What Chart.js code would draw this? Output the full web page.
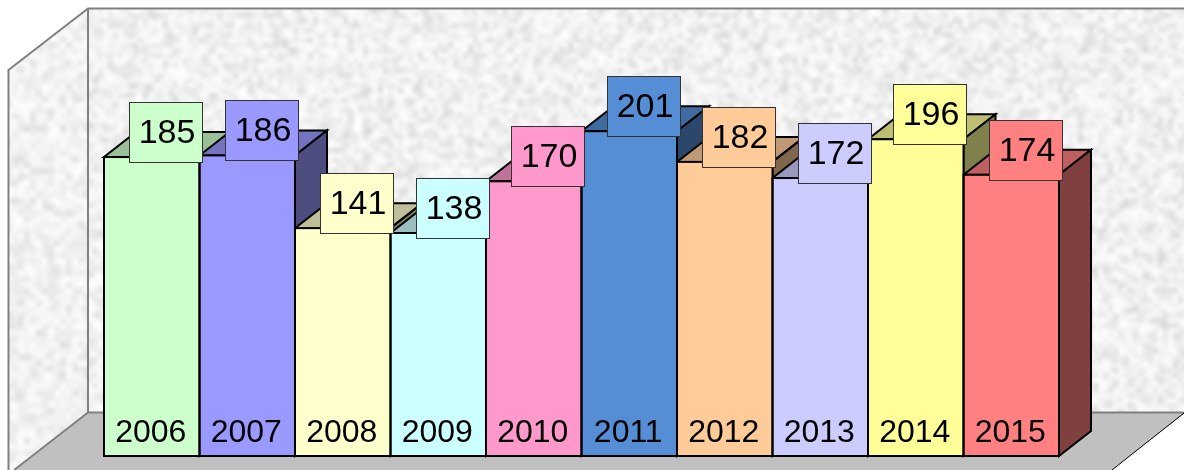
<!DOCTYPE html>
<html lang="en">
<head>
    <meta charset="utf-8">
    <title>Bars 2006-2015</title>
    <script src="https://cdn.jsdelivr.net/npm/chart.js"></script>
    <style>
        html, body { margin: 0; padding: 0; background: #fff; overflow: hidden; }
        canvas { display: block; }
    </style>
</head>
<body>
    <canvas id="barChart" width="1184" height="470"></canvas>
    <script>
        const categories = ['2006', '2007', '2008', '2009', '2010', '2011', '2012', '2013', '2014', '2015'];
        const seriesValues = [185, 186, 141, 138, 170, 201, 182, 172, 196, 174];
        const barColors = ['#CCFFCC', '#9999FF', '#FFFFCC', '#CCFFFF', '#FF99CC', '#558ED5', '#FFCC99', '#CCCCFF', '#FFFF99', '#FF8080'];

        const FONT = '"Liberation Sans", Arial, sans-serif';
        const DEPTH_X = 32;
        const DEPTH_Y = 25;
        const BORDER = 2;

        function shade(hex, k) {
            const n = parseInt(hex.slice(1), 16);
            return `rgb(${Math.round((n >> 16) * k)},${Math.round(((n >> 8) & 255) * k)},${Math.round((n & 255) * k)})`;
        }

        // stone texture for the walls, fixed seed so every render is the same
        function makeTexture(w, h, cell, lo, hi, blur) {
            let seed = 12345 + cell * 77;
            const next = () => {
                seed = (seed * 1664525 + 1013904223) % 4294967296;
                return seed / 4294967296;
            };
            const small = document.createElement('canvas');
            small.width = Math.ceil(w / cell);
            small.height = Math.ceil(h / cell);
            const sctx = small.getContext('2d');
            const img = sctx.createImageData(small.width, small.height);
            for (let i = 0; i < img.data.length; i += 4) {
                const v = lo + (hi - lo) * Math.sqrt(next());
                img.data[i] = img.data[i + 1] = img.data[i + 2] = v;
                img.data[i + 3] = 255;
            }
            sctx.putImageData(img, 0, 0);
            const big = document.createElement('canvas');
            big.width = w;
            big.height = h;
            const bctx = big.getContext('2d');
            bctx.imageSmoothingEnabled = true;
            bctx.imageSmoothingQuality = 'high';
            bctx.fillStyle = '#eee';
            bctx.fillRect(0, 0, w, h);
            bctx.filter = `blur(${blur}px)`;
            bctx.drawImage(small, 0, 0, small.width * cell, small.height * cell);
            return big;
        }

        function poly(ctx, pts, fill, stroke, lw) {
            ctx.beginPath();
            pts.forEach((p, i) => (i ? ctx.lineTo(p[0], p[1]) : ctx.moveTo(p[0], p[1])));
            ctx.closePath();
            if (fill) {
                ctx.fillStyle = fill;
                ctx.fill();
            }
            if (stroke) {
                ctx.strokeStyle = stroke;
                ctx.lineWidth = lw;
                ctx.lineJoin = 'miter';
                ctx.stroke();
            }
        }

        const backWallTex = makeTexture(1100, 410, 5, 212, 254, 1.5);
        const sideWallTex = makeTexture(84, 470, 6, 220, 252, 0.5);

        const wallsPlugin = {
            id: 'walls',
            beforeDraw(chart) {
                const ctx = chart.ctx;
                ctx.save();
                ctx.drawImage(backWallTex, 88, 8);
                ctx.save();
                ctx.beginPath();
                ctx.moveTo(8, 70);
                ctx.lineTo(88, 8);
                ctx.lineTo(88, 412);
                ctx.lineTo(8, 472);
                ctx.closePath();
                ctx.clip();
                ctx.drawImage(sideWallTex, 6, 0);
                ctx.restore();
                poly(ctx, [[88, 412], [1186, 412], [1112, 470], [14, 470]], '#C0C0C0');
                ctx.strokeStyle = '#808080';
                ctx.lineWidth = 2;
                ctx.beginPath();
                ctx.moveTo(1184, 8.5);
                ctx.lineTo(88, 8.5);
                ctx.lineTo(8.5, 70);
                ctx.lineTo(8.5, 470);
                ctx.moveTo(88, 8.5);
                ctx.lineTo(88, 412.5);
                ctx.lineTo(1184, 412.5);
                ctx.moveTo(88, 412.5);
                ctx.lineTo(14, 470);
                ctx.stroke();
                ctx.strokeStyle = '#000';
                ctx.lineWidth = 1;
                ctx.beginPath();
                ctx.moveTo(1184, 413);
                ctx.lineTo(1112, 470);
                ctx.stroke();
                ctx.restore();
            },
            beforeDatasetsDraw(chart) {
                const ctx = chart.ctx;
                const base = chart.scales.y.getPixelForValue(0);
                chart.getDatasetMeta(0).data.forEach((bar, i) => {
                    const l = bar.x - bar.width / 2;
                    const r = bar.x + bar.width / 2;
                    const t = bar.y;
                    poly(ctx, [[l, t], [r, t], [r + DEPTH_X, t - DEPTH_Y], [l + DEPTH_X, t - DEPTH_Y]],
                        shade(barColors[i], 0.75), '#000', BORDER);
                    poly(ctx, [[r, t], [r + DEPTH_X, t - DEPTH_Y], [r + DEPTH_X, base - DEPTH_Y], [r, base]],
                        shade(barColors[i], 0.5), '#000', BORDER);
                });
            }
        };

        const valueBoxPlugin = {
            id: 'valueBoxes',
            afterDatasetsDraw(chart) {
                const ctx = chart.ctx;
                const base = chart.scales.y.getPixelForValue(0);
                ctx.save();
                // front outlines first, the boxes sit on top of them
                ctx.strokeStyle = '#000';
                ctx.lineWidth = BORDER;
                chart.getDatasetMeta(0).data.forEach(bar => {
                    ctx.strokeRect(bar.x - bar.width / 2, bar.y, bar.width, base - bar.y);
                });
                ctx.font = `34px ${FONT}`;
                ctx.textAlign = 'center';
                ctx.textBaseline = 'middle';
                chart.getDatasetMeta(0).data.forEach((bar, i) => {
                    const cx = Math.round(bar.x + 14.5);
                    const cy = Math.round(bar.y - 25);
                    ctx.fillStyle = barColors[i];
                    ctx.fillRect(cx - 37, cy - 30, 74, 61);
                    ctx.strokeStyle = '#333';
                    ctx.lineWidth = 1;
                    ctx.strokeRect(cx - 36.5, cy - 29.5, 73, 60);
                    ctx.fillStyle = '#000';
                    ctx.fillText(String(seriesValues[i]), cx + 1, cy + 2);
                });
                ctx.restore();
            }
        };

        new Chart(document.getElementById('barChart'), {
            type: 'bar',
            data: {
                labels: categories,
                datasets: [{
                    data: seriesValues,
                    backgroundColor: barColors,
                    borderWidth: 0,
                    barPercentage: 1,
                    categoryPercentage: 1
                }]
            },
            options: {
                responsive: false,
                animation: false,
                layout: { padding: { left: 104, right: 125, top: 52, bottom: 14 } },
                plugins: { legend: { display: false }, tooltip: { enabled: false } },
                scales: {
                    x: {
                        position: 'bottom',
                        grid: { display: false },
                        border: { display: false },
                        afterFit(axis) { axis.height = 0; },
                        ticks: {
                            z: 1,
                            mirror: true,
                            color: '#000',
                            padding: 4,
                            labelOffset: -1,
                            maxRotation: 0,
                            font: { family: FONT, size: 32 }
                        }
                    },
                    y: {
                        display: false,
                        min: 0,
                        max: 250
                    }
                }
            },
            plugins: [wallsPlugin, valueBoxPlugin]
        });
    </script>
</body>
</html>
